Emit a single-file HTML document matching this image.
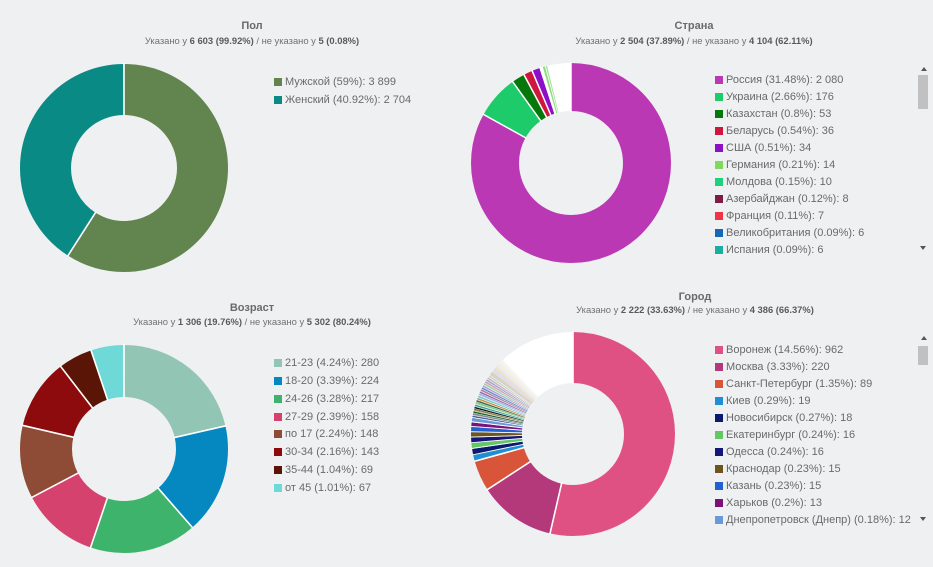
<!DOCTYPE html>
<html><head><meta charset="utf-8">
<style>
html,body{margin:0;padding:0;}
body{width:933px;height:567px;background:#eef0f2;position:relative;overflow:hidden;font-family:"Liberation Sans","DejaVu Sans",sans-serif;color:#666;}
.t{position:absolute;width:320px;text-align:center;font-weight:bold;font-size:11px;line-height:14px;color:#6a6a6a;}
.s{position:absolute;width:320px;text-align:center;font-size:9.4px;line-height:12px;color:#707070;white-space:nowrap;}
.s b{color:#5a5a5a;}
.l{position:absolute;font-size:11px;line-height:14px;white-space:nowrap;color:#6a6a6a;}
.l i{position:absolute;left:-11px;top:3px;width:8px;height:8px;}
svg{position:absolute;left:0;top:0;}
</style></head><body>
<svg width="933" height="567" viewBox="0 0 933 567">
<!-- Пол -->
<g transform="translate(124 168) rotate(-90)" fill="none" stroke-width="51">
<circle r="78.5" pathLength="360" stroke="#62844f" stroke-dasharray="212.6 360" stroke-dashoffset="0"/>
<circle r="78.5" pathLength="360" stroke="#0a8a84" stroke-dasharray="147.4 360" stroke-dashoffset="-212.6"/>
</g>
<g transform="translate(124 168)" stroke="#fff" stroke-width="1.6">
<line x1="0" y1="-52" x2="0" y2="-105"/>
<line x1="0" y1="-52" x2="0" y2="-105" transform="rotate(212.6)"/>
</g>
<!-- Страна -->
<g transform="translate(571 163) rotate(-90)" fill="none" stroke-width="48">
<circle r="76" pathLength="360" stroke="#bb38b5" stroke-dasharray="299.04 360" stroke-dashoffset="0"/>
<circle r="76" pathLength="360" stroke="#1ecb6a" stroke-dasharray="25.3 360" stroke-dashoffset="-299.04"/>
<circle r="76" pathLength="360" stroke="#06770b" stroke-dasharray="7.62 360" stroke-dashoffset="-324.34"/>
<circle r="76" pathLength="360" stroke="#d0163e" stroke-dasharray="5.18 360" stroke-dashoffset="-331.96"/>
<circle r="76" pathLength="360" stroke="#8d0fc6" stroke-dasharray="4.89 360" stroke-dashoffset="-337.14"/>
<circle r="76" pathLength="360" stroke="#ffffff" stroke-dasharray="2.01 360" stroke-dashoffset="-342.03"/>
<circle r="76" pathLength="360" stroke="#8fdc7a" stroke-dasharray="1.44 360" stroke-dashoffset="-344.04"/>
<circle r="76" pathLength="360" stroke="#a6e6a0" stroke-dasharray="1.15 360" stroke-dashoffset="-345.48"/>
<circle r="76" pathLength="360" stroke="#ffffff" stroke-dasharray="14.4 360" stroke-dashoffset="-346.63"/>
</g>
<g transform="translate(571 163)" stroke="#fff" stroke-width="1.5">
<line x1="0" y1="-51" x2="0" y2="-101"/>
<line x1="0" y1="-51" x2="0" y2="-101" transform="rotate(299.04)"/>
<line x1="0" y1="-51" x2="0" y2="-101" transform="rotate(324.34)"/>
<line x1="0" y1="-51" x2="0" y2="-101" transform="rotate(331.96)"/>
<line x1="0" y1="-51" x2="0" y2="-101" transform="rotate(337.14)"/>
<line x1="0" y1="-51" x2="0" y2="-101" transform="rotate(342.03)"/>
<line x1="0" y1="-51" x2="0" y2="-101" transform="rotate(345.1)" stroke-width="0.8"/>
</g>
<!-- Возраст -->
<g transform="translate(124 449) rotate(-90)" fill="none" stroke-width="52">
<circle r="78" pathLength="360" stroke="#93c5b4" stroke-dasharray="77.18 360" stroke-dashoffset="0"/>
<circle r="78" pathLength="360" stroke="#0588c0" stroke-dasharray="61.75 360" stroke-dashoffset="-77.18"/>
<circle r="78" pathLength="360" stroke="#3db36b" stroke-dasharray="59.82 360" stroke-dashoffset="-138.93"/>
<circle r="78" pathLength="360" stroke="#d6426e" stroke-dasharray="43.55 360" stroke-dashoffset="-198.75"/>
<circle r="78" pathLength="360" stroke="#8e4c37" stroke-dasharray="40.8 360" stroke-dashoffset="-242.3"/>
<circle r="78" pathLength="360" stroke="#8d0b0c" stroke-dasharray="39.42 360" stroke-dashoffset="-283.1"/>
<circle r="78" pathLength="360" stroke="#5b1507" stroke-dasharray="19.02 360" stroke-dashoffset="-322.52"/>
<circle r="78" pathLength="360" stroke="#6fd9d8" stroke-dasharray="18.46 360" stroke-dashoffset="-341.54"/>
</g>
<g transform="translate(124 449)" stroke="#fff" stroke-width="1.6">
<line x1="0" y1="-51" x2="0" y2="-105"/>
<line x1="0" y1="-51" x2="0" y2="-105" transform="rotate(77.18)"/>
<line x1="0" y1="-51" x2="0" y2="-105" transform="rotate(138.93)"/>
<line x1="0" y1="-51" x2="0" y2="-105" transform="rotate(198.75)"/>
<line x1="0" y1="-51" x2="0" y2="-105" transform="rotate(242.3)"/>
<line x1="0" y1="-51" x2="0" y2="-105" transform="rotate(283.1)"/>
<line x1="0" y1="-51" x2="0" y2="-105" transform="rotate(322.52)"/>
<line x1="0" y1="-51" x2="0" y2="-105" transform="rotate(341.54)"/>
</g>
<!-- Город -->
<g transform="translate(573 434) rotate(-90)" fill="none" stroke-width="51">
<circle r="76.5" pathLength="360" stroke="#ffffff" stroke-dasharray="360 360" stroke-dashoffset="0"/>
<circle r="76.5" pathLength="360" stroke="#e05183" stroke-dasharray="193 360" stroke-dashoffset="0"/>
<circle r="76.5" pathLength="360" stroke="#b3397a" stroke-dasharray="44 360" stroke-dashoffset="-193"/>
<circle r="76.5" pathLength="360" stroke="#d8553a" stroke-dasharray="17.5 360" stroke-dashoffset="-237"/>
<circle r="76.5" pathLength="360" stroke="#1e8fd5" stroke-dasharray="3.8 360" stroke-dashoffset="-254.5"/>
<circle r="76.5" pathLength="360" stroke="#0b1a6e" stroke-dasharray="3.6 360" stroke-dashoffset="-258.3"/>
<circle r="76.5" pathLength="360" stroke="#63c763" stroke-dasharray="3.2 360" stroke-dashoffset="-261.9"/>
<circle r="76.5" pathLength="360" stroke="#14167a" stroke-dasharray="3.2 360" stroke-dashoffset="-265.1"/>
<circle r="76.5" pathLength="360" stroke="#6c561c" stroke-dasharray="3.0 360" stroke-dashoffset="-268.3"/>
<circle r="76.5" pathLength="360" stroke="#2361cf" stroke-dasharray="3.0 360" stroke-dashoffset="-271.3"/>
<circle r="76.5" pathLength="360" stroke="#7b127b" stroke-dasharray="2.6 360" stroke-dashoffset="-274.3"/>
<circle r="76.5" pathLength="360" stroke="#6a98d8" stroke-dasharray="2.4 360" stroke-dashoffset="-276.9"/>
<circle r="76.5" pathLength="360" stroke="#2b4f8f" stroke-dasharray="1.3 360" stroke-dashoffset="-279.3"/>
<circle r="76.5" pathLength="360" stroke="#8a8a9a" stroke-dasharray="1.3 360" stroke-dashoffset="-280.6"/>
<circle r="76.5" pathLength="360" stroke="#0f5f2f" stroke-dasharray="1.3 360" stroke-dashoffset="-281.9"/>
<circle r="76.5" pathLength="360" stroke="#9a8a4a" stroke-dasharray="1.3 360" stroke-dashoffset="-283.2"/>
<circle r="76.5" pathLength="360" stroke="#111111" stroke-dasharray="1.3 360" stroke-dashoffset="-284.5"/>
<circle r="76.5" pathLength="360" stroke="#3a9a9a" stroke-dasharray="1.3 360" stroke-dashoffset="-285.8"/>
<circle r="76.5" pathLength="360" stroke="#8ad08a" stroke-dasharray="1.3 360" stroke-dashoffset="-287.1"/>
<circle r="76.5" pathLength="360" stroke="#2a6a4a" stroke-dasharray="1.3 360" stroke-dashoffset="-288.4"/>
<circle r="76.5" pathLength="360" stroke="#d08a40" stroke-dasharray="1.3 360" stroke-dashoffset="-289.7"/>
<circle r="76.5" pathLength="360" stroke="#6acaca" stroke-dasharray="1.3 360" stroke-dashoffset="-291.0"/>
<circle r="76.5" pathLength="360" stroke="#a0c0e0" stroke-dasharray="1.3 360" stroke-dashoffset="-292.3"/>
<circle r="76.5" pathLength="360" stroke="#8a6ab0" stroke-dasharray="1.3 360" stroke-dashoffset="-293.6"/>
<circle r="76.5" pathLength="360" stroke="#c07aa0" stroke-dasharray="1.3 360" stroke-dashoffset="-294.9"/>
<circle r="76.5" pathLength="360" stroke="#5a8ac0" stroke-dasharray="1.3 360" stroke-dashoffset="-296.2"/>
<circle r="76.5" pathLength="360" stroke="#b0a0d0" stroke-dasharray="1.3 360" stroke-dashoffset="-297.5"/>
<circle r="76.5" pathLength="360" stroke="#9ad0b0" stroke-dasharray="1.3 360" stroke-dashoffset="-298.8"/>
<circle r="76.5" pathLength="360" stroke="#d0a0b0" stroke-dasharray="1.3 360" stroke-dashoffset="-300.1"/>
<circle r="76.5" pathLength="360" stroke="#a0a0c0" stroke-dasharray="1.3 360" stroke-dashoffset="-301.4"/>
<circle r="76.5" pathLength="360" stroke="#c0b0d0" stroke-dasharray="1.3 360" stroke-dashoffset="-302.7"/>
<circle r="76.5" pathLength="360" stroke="#c8d8b0" stroke-dasharray="1.3 360" stroke-dashoffset="-304.0"/>
<circle r="76.5" pathLength="360" stroke="#d0c8e0" stroke-dasharray="1.3 360" stroke-dashoffset="-305.3"/>
<circle r="76.5" pathLength="360" stroke="#e0d0b0" stroke-dasharray="1.3 360" stroke-dashoffset="-306.6"/>
<circle r="76.5" pathLength="360" stroke="#d8e0e8" stroke-dasharray="1.3 360" stroke-dashoffset="-307.9"/>
<circle r="76.5" pathLength="360" stroke="#e8d8e8" stroke-dasharray="1.3 360" stroke-dashoffset="-309.2"/>
<circle r="76.5" pathLength="360" stroke="#e8e8c8" stroke-dasharray="1.3 360" stroke-dashoffset="-310.5"/>
<circle r="76.5" pathLength="360" stroke="#f0e8f0" stroke-dasharray="1.3 360" stroke-dashoffset="-311.8"/>
<circle r="76.5" pathLength="360" stroke="#f0f0e0" stroke-dasharray="1.3 360" stroke-dashoffset="-313.1"/>
<circle r="76.5" pathLength="360" stroke="#f4f0f4" stroke-dasharray="1.3 360" stroke-dashoffset="-314.4"/>
<circle r="76.5" pathLength="360" stroke="#f6f6ee" stroke-dasharray="1.3 360" stroke-dashoffset="-315.7"/>
</g>
<g transform="translate(573 434)" stroke="#fff" stroke-width="1.6">
<line x1="0" y1="-50" x2="0" y2="-103"/>
<line x1="0" y1="-50" x2="0" y2="-103" transform="rotate(193)"/>
<line x1="0" y1="-50" x2="0" y2="-103" transform="rotate(237)"/>
<line x1="0" y1="-50" x2="0" y2="-103" transform="rotate(254.5)"/>
<g stroke-width="0.9">
<line x1="0" y1="-50" x2="0" y2="-103" transform="rotate(258.3)"/>
<line x1="0" y1="-50" x2="0" y2="-103" transform="rotate(261.9)"/>
<line x1="0" y1="-50" x2="0" y2="-103" transform="rotate(265.1)"/>
<line x1="0" y1="-50" x2="0" y2="-103" transform="rotate(268.3)"/>
<line x1="0" y1="-50" x2="0" y2="-103" transform="rotate(271.3)"/>
<line x1="0" y1="-50" x2="0" y2="-103" transform="rotate(274.3)"/>
<line x1="0" y1="-50" x2="0" y2="-103" transform="rotate(276.9)"/>
<line x1="0" y1="-50" x2="0" y2="-103" transform="rotate(279.3)"/>
</g>
<g stroke-width="0.5">
<line x1="0" y1="-50" x2="0" y2="-103" transform="rotate(280.6)"/>
<line x1="0" y1="-50" x2="0" y2="-103" transform="rotate(281.9)"/>
<line x1="0" y1="-50" x2="0" y2="-103" transform="rotate(283.2)"/>
<line x1="0" y1="-50" x2="0" y2="-103" transform="rotate(284.5)"/>
<line x1="0" y1="-50" x2="0" y2="-103" transform="rotate(285.8)"/>
<line x1="0" y1="-50" x2="0" y2="-103" transform="rotate(287.1)"/>
<line x1="0" y1="-50" x2="0" y2="-103" transform="rotate(288.4)"/>
<line x1="0" y1="-50" x2="0" y2="-103" transform="rotate(289.7)"/>
<line x1="0" y1="-50" x2="0" y2="-103" transform="rotate(291.0)"/>
<line x1="0" y1="-50" x2="0" y2="-103" transform="rotate(292.3)"/>
<line x1="0" y1="-50" x2="0" y2="-103" transform="rotate(293.6)"/>
<line x1="0" y1="-50" x2="0" y2="-103" transform="rotate(294.9)"/>
<line x1="0" y1="-50" x2="0" y2="-103" transform="rotate(296.2)"/>
<line x1="0" y1="-50" x2="0" y2="-103" transform="rotate(297.5)"/>
<line x1="0" y1="-50" x2="0" y2="-103" transform="rotate(298.8)"/>
<line x1="0" y1="-50" x2="0" y2="-103" transform="rotate(300.1)"/>
<line x1="0" y1="-50" x2="0" y2="-103" transform="rotate(301.4)"/>
<line x1="0" y1="-50" x2="0" y2="-103" transform="rotate(302.7)"/>
<line x1="0" y1="-50" x2="0" y2="-103" transform="rotate(304.0)"/>
<line x1="0" y1="-50" x2="0" y2="-103" transform="rotate(305.3)"/>
</g>
</g>
<!-- scrollbars -->
<g fill="#555">
<polygon points="921,71 927,71 924,67"/>
<rect x="918" y="75" width="10" height="34" fill="#c1c1c1"/>
<polygon points="920,246 926,246 923,250"/>
<polygon points="921,340 927,340 924,336"/>
<rect x="918" y="346" width="10" height="19" fill="#c1c1c1"/>
<polygon points="920,517 926,517 923,521"/>
</g>
</svg>

<!-- titles -->
<div class="t" style="left:92px;top:19px;">Пол</div>
<div class="s" style="left:92px;top:35px;">Указано у <b>6 603 (99.92%)</b> / не указано у <b>5 (0.08%)</b></div>
<div class="t" style="left:534px;top:19px;">Страна</div>
<div class="s" style="left:534px;top:35px;">Указано у <b>2 504 (37.89%)</b> / не указано у <b>4 104 (62.11%)</b></div>
<div class="t" style="left:92px;top:301px;">Возраст</div>
<div class="s" style="left:92px;top:316px;">Указано у <b>1 306 (19.76%)</b> / не указано у <b>5 302 (80.24%)</b></div>
<div class="t" style="left:535px;top:290px;">Город</div>
<div class="s" style="left:535px;top:304px;">Указано у <b>2 222 (33.63%)</b> / не указано у <b>4 386 (66.37%)</b></div>

<!-- legend Пол -->
<div class="l" style="left:285px;top:75px;"><i style="background:#62844f"></i>Мужской (59%): 3 899</div>
<div class="l" style="left:285px;top:93px;"><i style="background:#0a8a84"></i>Женский (40.92%): 2 704</div>

<!-- legend Страна -->
<div class="l" style="left:726px;top:72.5px;"><i style="background:#bb38b5"></i>Россия (31.48%): 2 080</div>
<div class="l" style="left:726px;top:89.5px;"><i style="background:#1ecb6a"></i>Украина (2.66%): 176</div>
<div class="l" style="left:726px;top:106.5px;"><i style="background:#06770b"></i>Казахстан (0.8%): 53</div>
<div class="l" style="left:726px;top:123.5px;"><i style="background:#d0163e"></i>Беларусь (0.54%): 36</div>
<div class="l" style="left:726px;top:140.5px;"><i style="background:#8d0fc6"></i>США (0.51%): 34</div>
<div class="l" style="left:726px;top:157.5px;"><i style="background:#80d85d"></i>Германия (0.21%): 14</div>
<div class="l" style="left:726px;top:174.5px;"><i style="background:#1ed27a"></i>Молдова (0.15%): 10</div>
<div class="l" style="left:726px;top:191.5px;"><i style="background:#7b1d44"></i>Азербайджан (0.12%): 8</div>
<div class="l" style="left:726px;top:208.5px;"><i style="background:#ee3445"></i>Франция (0.11%): 7</div>
<div class="l" style="left:726px;top:225.5px;"><i style="background:#1468b8"></i>Великобритания (0.09%): 6</div>
<div class="l" style="left:726px;top:242.5px;"><i style="background:#1aada0"></i>Испания (0.09%): 6</div>

<!-- legend Возраст -->
<div class="l" style="left:285px;top:356px;"><i style="background:#93c5b4"></i>21-23 (4.24%): 280</div>
<div class="l" style="left:285px;top:374px;"><i style="background:#0588c0"></i>18-20 (3.39%): 224</div>
<div class="l" style="left:285px;top:391.5px;"><i style="background:#3db36b"></i>24-26 (3.28%): 217</div>
<div class="l" style="left:285px;top:409.5px;"><i style="background:#d6426e"></i>27-29 (2.39%): 158</div>
<div class="l" style="left:285px;top:427px;"><i style="background:#8e4c37"></i>по 17 (2.24%): 148</div>
<div class="l" style="left:285px;top:445px;"><i style="background:#8d0b0c"></i>30-34 (2.16%): 143</div>
<div class="l" style="left:285px;top:463px;"><i style="background:#5b1507"></i>35-44 (1.04%): 69</div>
<div class="l" style="left:285px;top:480.5px;"><i style="background:#6fd9d8"></i>от 45 (1.01%): 67</div>

<!-- legend Город -->
<div class="l" style="left:726px;top:343px;"><i style="background:#e05183"></i>Воронеж (14.56%): 962</div>
<div class="l" style="left:726px;top:360px;"><i style="background:#b3397a"></i>Москва (3.33%): 220</div>
<div class="l" style="left:726px;top:377px;"><i style="background:#d8553a"></i>Санкт-Петербург (1.35%): 89</div>
<div class="l" style="left:726px;top:394px;"><i style="background:#1e8fd5"></i>Киев (0.29%): 19</div>
<div class="l" style="left:726px;top:411px;"><i style="background:#0b1a6e"></i>Новосибирск (0.27%): 18</div>
<div class="l" style="left:726px;top:428px;"><i style="background:#63c763"></i>Екатеринбург (0.24%): 16</div>
<div class="l" style="left:726px;top:445px;"><i style="background:#14167a"></i>Одесса (0.24%): 16</div>
<div class="l" style="left:726px;top:462px;"><i style="background:#6c561c"></i>Краснодар (0.23%): 15</div>
<div class="l" style="left:726px;top:479px;"><i style="background:#2361cf"></i>Казань (0.23%): 15</div>
<div class="l" style="left:726px;top:496px;"><i style="background:#7b127b"></i>Харьков (0.2%): 13</div>
<div class="l" style="left:726px;top:513px;"><i style="background:#6a98d8"></i>Днепропетровск (Днепр) (0.18%): 12</div>
</body></html>
